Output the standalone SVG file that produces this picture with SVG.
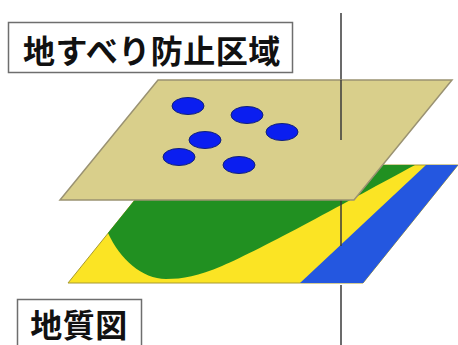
<svg xmlns="http://www.w3.org/2000/svg" width="458" height="345" viewBox="0 0 458 345">
  <style>
    .label-box { fill: #ffffff; stroke: #6e6e6e; stroke-width: 1.5; }
    .label { font-family: "Noto Sans CJK JP", "Noto Sans CJK SC", sans-serif; font-weight: bold; font-size: 32px; fill: #111111; letter-spacing: 0.5px; }
    .axis { stroke: #3a3a3a; stroke-width: 1.5; fill: none; }
    .dot { fill: #0a1ef0; stroke: #10207a; stroke-width: 1; }
  </style>
  <rect width="458" height="345" fill="#ffffff"/>

  <!-- lower layer: geology map -->
  <g id="geology-layer">
    <polygon points="163,165 458,165 363,283 68,283" fill="#fbe424" stroke="#a89a30" stroke-width="1"/>
    <path d="M163,165 L415,165 C350,200 262,249 222,266 C198,276 183,279 166,279 C142,279 120,259 108,233 Z" fill="#219021"/>
    <polygon points="426,165 458,165 363,283 300,283" fill="#2457e0"/>
  </g>

  <!-- vertical axis through both layers -->
  <g id="connectors">
    <line class="axis" x1="341" y1="13" x2="341" y2="140"/>
    <line class="axis" x1="341" y1="200" x2="341" y2="246"/>
    <line class="axis" x1="341" y1="285" x2="341" y2="345"/>
  </g>

  <!-- upper layer: landslide prevention zone -->
  <g id="zone-layer">
    <polygon points="158,80 452,80 354,200 60,200" fill="#d9cf8b" stroke="#9a9272" stroke-width="1.5"/>
    <ellipse class="dot" cx="188" cy="106" rx="16" ry="8.5"/>
    <ellipse class="dot" cx="247" cy="115" rx="16" ry="8.5"/>
    <ellipse class="dot" cx="282" cy="132" rx="16" ry="8.5"/>
    <ellipse class="dot" cx="205" cy="140" rx="16" ry="8.5"/>
    <ellipse class="dot" cx="179" cy="157" rx="16" ry="8.5"/>
    <ellipse class="dot" cx="239" cy="165" rx="16" ry="8.5"/>
    <line class="axis" x1="341" y1="80" x2="341" y2="140"/>
  </g>

  <g id="zone-label">
    <rect class="label-box" x="8.5" y="22.5" width="284" height="50"/>
    <text class="label" x="152" y="63" text-anchor="middle">地すべり防止区域</text>
  </g>

  <g id="geology-label">
    <rect class="label-box" x="17.5" y="299.5" width="124" height="60"/>
    <text class="label" x="79" y="337" text-anchor="middle">地質図</text>
  </g>
</svg>
